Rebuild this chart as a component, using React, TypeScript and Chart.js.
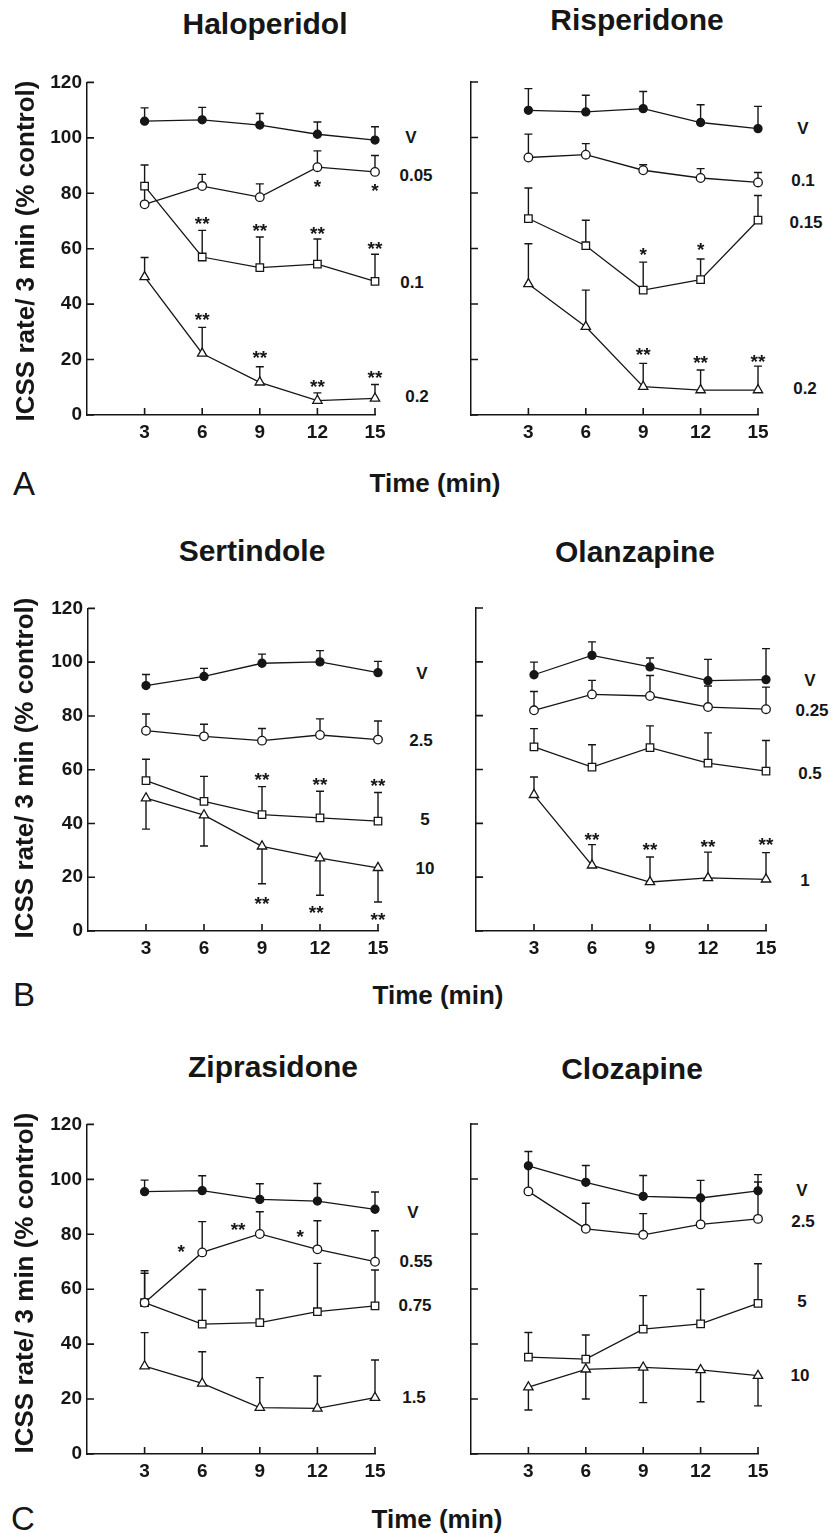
import React, { useEffect, useRef } from "react";
import { Chart, registerables } from "chart.js";

Chart.register(...registerables);

// ---------- shared axes ----------
const TIME = [3, 6, 9, 12, 15];
const Y_TICKS = [0, 20, 40, 60, 80, 100, 120];
const X_TITLE = "Time (min)";
const Y_TITLE = "ICSS rate/ 3 min (% control)";
const ROW_LETTERS = ["A", "B", "C"];
const DRUGS = ["Haloperidol", "Risperidone", "Sertindole", "Olanzapine", "Ziprasidone", "Clozapine"];

// ---------- Haloperidol ----------
const haloDoses = ["V", "0.05", "0.1", "0.2"];
const haloV = [106.0, 106.5, 104.6, 101.3, 99.2];
const haloVErr = [110.8, 111.0, 108.8, 105.7, 104.0];
const halo005 = [76.0, 82.6, 78.6, 89.4, 87.7];
const halo005Err = [82.6, 86.8, 83.4, 95.3, 93.6];
const halo01 = [82.6, 57.0, 53.2, 54.4, 48.2];
const halo01Err = [90.2, 66.6, 64.2, 63.5, 58.0];
const halo02 = [49.8, 22.2, 11.8, 5.2, 6.0];
const halo02Err = [56.8, 31.6, 17.4, 8.0, 11.0];
const haloStars: [number, number, string][] = [
  [12, 84.0, "*"], [15, 82.8, "*"],
  [6, 70.8, "**"], [9, 68.2, "**"], [12, 67.2, "**"], [15, 61.8, "**"],
  [6, 36.0, "**"], [9, 22.2, "**"], [12, 12.0, "**"], [15, 15.0, "**"],
];

// ---------- Risperidone ----------
const rispDoses = ["V", "0.1", "0.15", "0.2"];
const rispV = [109.8, 109.2, 110.4, 105.4, 103.2];
const rispVErr = [117.6, 115.2, 116.6, 111.8, 111.2];
const risp01 = [92.8, 93.8, 88.2, 85.4, 83.8];
const risp01Err = [101.2, 97.8, 90.2, 88.8, 87.4];
const risp015 = [70.8, 61.0, 45.0, 48.8, 70.2];
const risp015Err = [81.8, 70.2, 55.1, 56.2, 79.1];
const risp02 = [47.2, 31.8, 10.2, 9.0, 9.0];
const risp02Err = [61.7, 45.0, 18.6, 16.2, 17.6];
const rispStars: [number, number, string][] = [
  [9, 59.6, "*"], [12, 61.2, "*"],
  [9, 23.4, "**"], [12, 20.4, "**"], [15, 21.0, "**"],
];

// ---------- Sertindole ----------
const sertDoses = ["V", "2.5", "5", "10"];
const sertV = [91.3, 94.7, 99.6, 100.1, 96.1];
const sertVErr = [95.4, 97.7, 103.0, 104.3, 100.3];
const sert25 = [74.5, 72.4, 70.8, 72.9, 71.2];
const sert25Err = [80.7, 76.9, 75.3, 78.9, 78.1];
const sert5 = [55.9, 48.2, 43.3, 42.1, 40.9];
const sert5Err = [63.9, 57.5, 53.7, 52.0, 51.5];
const sert10 = [49.4, 43.1, 31.5, 27.1, 23.5];
const sert10Err = [37.9, 31.6, 17.6, 13.3, 10.8];
const sertStars: [number, number, string][] = [
  [9, 58.2, "**"], [12, 56.2, "**"], [15, 55.7, "**"],
  [9, 12.0, "**"], [11.8, 8.7, "**"], [15, 6.1, "**"],
];

// ---------- Olanzapine ----------
const olanDoses = ["V", "0.25", "0.5", "1"];
const olanV = [95.2, 102.4, 98.1, 93.0, 93.4];
const olanVErr = [99.9, 107.4, 101.4, 100.9, 104.9];
const olan025 = [82.0, 87.9, 87.3, 83.2, 82.4];
const olan025Err = [89.0, 93.1, 94.9, 91.0, 90.6];
const olan05 = [68.4, 60.9, 68.1, 62.4, 59.4];
const olan05Err = [75.2, 69.2, 76.2, 73.6, 70.8];
const olan1 = [50.6, 24.4, 18.2, 19.7, 19.2];
const olan1Err = [57.2, 32.1, 27.5, 29.3, 29.1];
const olanStars: [number, number, string][] = [
  [6, 35.5, "**"], [9, 31.8, "**"], [12, 33.1, "**"], [15, 33.7, "**"],
];

// ---------- Ziprasidone ----------
const zipDoses = ["V", "0.55", "0.75", "1.5"];
const zipV = [95.5, 95.9, 92.7, 92.1, 89.1];
const zipVErr = [99.7, 101.3, 98.4, 98.5, 95.4];
const zip055 = [55.1, 73.4, 80.1, 74.5, 70.0];
const zip055Err = [66.7, 84.6, 88.2, 84.9, 81.3];
const zip075 = [55.1, 47.3, 47.8, 51.8, 53.9];
const zip075Err = [65.8, 59.9, 59.7, 69.4, 67.0];
const zip15 = [32.0, 25.7, 16.9, 16.6, 20.5];
const zip15Err = [44.2, 37.2, 27.8, 28.4, 34.2];
const zipStars: [number, number, string][] = [
  [4.9, 75.5, "*"], [7.87, 83.4, "**"], [11.1, 80.9, "*"],
];

// ---------- Clozapine ----------
const clozDoses = ["V", "2.5", "5", "10"];
const clozV = [104.8, 98.8, 93.7, 93.1, 95.7];
const clozVErr = [110.0, 104.9, 101.3, 99.5, 101.6];
const cloz25 = [95.5, 81.9, 79.7, 83.5, 85.5];
const cloz25Err = [104.6, 91.2, 87.4, 93.1, 98.9];
const cloz5 = [35.2, 34.5, 45.4, 47.3, 54.8];
const cloz5Err = [44.2, 43.3, 57.6, 59.9, 69.2];
const cloz10 = [24.3, 30.8, 31.5, 30.6, 28.5];
const cloz10Err = [16.0, 20.0, 18.7, 19.0, 17.5];
const clozStars: [number, number, string][] = [];

// ---------- panel assembly ----------
type Panel = {
  title: string;
  doses: string[];
  means: number[][];
  errs: number[][];
  stars: [number, number, string][];
  showY: boolean;
};

const PANELS: Panel[] = [
  { title: DRUGS[0], doses: haloDoses, means: [haloV, halo005, halo01, halo02], errs: [haloVErr, halo005Err, halo01Err, halo02Err], stars: haloStars, showY: true },
  { title: DRUGS[1], doses: rispDoses, means: [rispV, risp01, risp015, risp02], errs: [rispVErr, risp01Err, risp015Err, risp02Err], stars: rispStars, showY: false },
  { title: DRUGS[2], doses: sertDoses, means: [sertV, sert25, sert5, sert10], errs: [sertVErr, sert25Err, sert5Err, sert10Err], stars: sertStars, showY: true },
  { title: DRUGS[3], doses: olanDoses, means: [olanV, olan025, olan05, olan1], errs: [olanVErr, olan025Err, olan05Err, olan1Err], stars: olanStars, showY: false },
  { title: DRUGS[4], doses: zipDoses, means: [zipV, zip055, zip075, zip15], errs: [zipVErr, zip055Err, zip075Err, zip15Err], stars: zipStars, showY: true },
  { title: DRUGS[5], doses: clozDoses, means: [clozV, cloz25, cloz5, cloz10], errs: [clozVErr, cloz25Err, cloz5Err, cloz10Err], stars: clozStars, showY: false },
];

// ---------- layout (page pixels) ----------
const FONT = '"Liberation Sans", Arial, Helvetica, sans-serif';
const INK = "#161616";
const PT = 16;
const PR = 22;
const XH = 40;

const RECTS = [
  { L: 87, R: 375, T: 82, B: 415 },
  { L: 471, R: 758, T: 82, B: 415 },
  { L: 88, R: 378, T: 608, B: 931 },
  { L: 476, R: 766, T: 608, B: 931 },
  { L: 87, R: 375, T: 1124, B: 1454 },
  { L: 471, R: 758, T: 1124, B: 1454 },
];
const TITLE_POS = [[265, 24], [637, 20], [252, 551], [635, 552], [273, 1067], [632, 1069]];
const DOSE_POS = [
  [[411, 137], [416, 175], [412, 282], [417, 396]],
  [[803, 128], [803, 180], [806, 222], [805, 388]],
  [[422, 673], [421, 740], [425, 819], [425, 868]],
  [[810, 680], [812, 710], [810, 773], [805, 880]],
  [[413, 1212], [416, 1261], [415, 1305], [414, 1397]],
  [[802, 1190], [803, 1221], [802, 1301], [800, 1375]],
];
const ROW_LETTER_POS = [[24, 483], [24, 994], [23, 1518]];
const X_TITLE_POS = [[435, 483], [438, 995], [437, 1519]];
const Y_TITLE_POS = [[25, 251], [24, 768], [24, 1283]];

const MARKERS = [
  { style: "circle", r: 4, fill: INK },
  { style: "circle", r: 4.3, fill: "#ffffff" },
  { style: "rect", r: 5.3, fill: "#ffffff" },
  { style: "triangle", r: 5.4, fill: "#ffffff" },
];

function PanelChart({ panel, rect }: { panel: Panel; rect: { L: number; R: number; T: number; B: number } }) {
  const ref = useRef<HTMLCanvasElement | null>(null);
  const yw = panel.showY ? 60 : 8;
  const width = yw + (rect.R - rect.L) + PR;
  const height = PT + (rect.B - rect.T) + XH;

  useEffect(() => {
    if (!ref.current) return;
    const decor = {
      id: "decor",
      beforeDatasetsDraw(chart: any) {
        const { ctx, scales } = chart;
        const x = scales.x, y = scales.y;
        ctx.save();
        ctx.strokeStyle = INK;
        ctx.lineWidth = 1.4;
        panel.means.forEach((mean, k) => {
          const err = panel.errs[k];
          mean.forEach((m, i) => {
            const px = x.getPixelForValue(TIME[i]);
            const p0 = y.getPixelForValue(m);
            const p1 = y.getPixelForValue(err[i]);
            ctx.beginPath();
            ctx.moveTo(px, p0);
            ctx.lineTo(px, p1);
            ctx.moveTo(px - 4, p1);
            ctx.lineTo(px + 4, p1);
            ctx.stroke();
          });
        });
        ctx.restore();
      },
      afterDraw(chart: any) {
        const { ctx, scales, chartArea } = chart;
        const x = scales.x, y = scales.y;
        ctx.save();
        ctx.strokeStyle = INK;
        ctx.lineWidth = 1.6;
        ctx.beginPath();
        TIME.forEach((t) => {
          const px = x.getPixelForValue(t);
          ctx.moveTo(px, chartArea.bottom);
          ctx.lineTo(px, chartArea.bottom - 7);
        });
        Y_TICKS.forEach((v) => {
          const py = y.getPixelForValue(v);
          ctx.moveTo(chartArea.left, py);
          ctx.lineTo(chartArea.left + 7, py);
        });
        ctx.stroke();
        const size = 19;
        ctx.fillStyle = INK;
        ctx.font = `bold ${size}px ${FONT}`;
        ctx.textAlign = "center";
        ctx.textBaseline = "alphabetic";
        panel.stars.forEach(([sx, sy, txt]) => {
          const px = x.getPixelForValue(sx);
          const py = y.getPixelForValue(sy);
          ctx.fillText(txt, px, py + 0.58 * size);
        });
        ctx.restore();
      },
    };

    const chart = new Chart(ref.current, {
      type: "line",
      data: {
        datasets: panel.means.map((mean, k) => ({
          label: panel.doses[k],
          data: mean.map((v, i) => ({ x: TIME[i], y: v })),
          borderColor: INK,
          borderWidth: 1.3,
          pointStyle: MARKERS[k].style as any,
          pointRadius: MARKERS[k].r,
          pointBackgroundColor: MARKERS[k].fill,
          pointBorderColor: INK,
          pointBorderWidth: 1.3,
          tension: 0,
          fill: false,
          clip: 10,
        })),
      },
      options: {
        animation: false,
        responsive: false,
        maintainAspectRatio: false,
        devicePixelRatio: 1,
        events: [],
        layout: { padding: { top: PT, right: PR, left: 0, bottom: 0 } },
        plugins: { legend: { display: false }, tooltip: { enabled: false }, title: { display: false } },
        scales: {
          x: {
            type: "linear",
            min: 0,
            max: 15,
            afterBuildTicks: (s: any) => { s.ticks = TIME.map((v) => ({ value: v })); },
            afterFit: (s: any) => { s.height = XH; },
            grid: { display: false, drawTicks: false },
            border: { display: true, color: INK, width: 1.5 },
            ticks: { color: INK, font: { family: FONT, size: 19, weight: "bold" }, padding: 6, maxRotation: 0, autoSkip: false },
          },
          y: {
            type: "linear",
            min: 0,
            max: 120,
            afterBuildTicks: (s: any) => { s.ticks = Y_TICKS.map((v) => ({ value: v })); },
            afterFit: (s: any) => { s.width = yw; },
            grid: { display: false, drawTicks: false },
            border: { display: true, color: INK, width: 1.5 },
            ticks: { display: panel.showY, color: INK, font: { family: FONT, size: 19, weight: "bold" }, padding: 5 },
          },
        },
      },
      plugins: [decor],
    } as any);
    return () => chart.destroy();
  }, [panel, yw]);

  return (
    <canvas
      ref={ref}
      width={width}
      height={height}
      style={{ position: "absolute", left: rect.L - yw, top: rect.T - PT, width, height }}
    />
  );
}

function Txt({ x, y, size, bold = true, rotate = false, children }: { x: number; y: number; size: number; bold?: boolean; rotate?: boolean; children: React.ReactNode }) {
  return (
    <div
      style={{
        position: "absolute",
        left: x,
        top: y,
        transform: `translate(-50%, -50%)${rotate ? " rotate(-90deg)" : ""}`,
        fontSize: size,
        fontWeight: bold ? 700 : 400,
        lineHeight: 1,
        whiteSpace: "nowrap",
        color: INK,
        fontFamily: FONT,
      }}
    >
      {children}
    </div>
  );
}

export default function App() {
  return (
    <div style={{ position: "absolute", left: 0, top: 0, width: 831, height: 1533, background: "#fff", overflow: "hidden" }}>
      {PANELS.map((p, i) => (
        <PanelChart key={"c" + i} panel={p} rect={RECTS[i]} />
      ))}
      {PANELS.map((p, i) => (
        <Txt key={"t" + i} x={TITLE_POS[i][0]} y={TITLE_POS[i][1]} size={30}>{p.title}</Txt>
      ))}
      {PANELS.map((p, i) =>
        p.doses.map((d, k) => (
          <Txt key={"d" + i + "-" + k} x={DOSE_POS[i][k][0]} y={DOSE_POS[i][k][1]} size={17}>{d}</Txt>
        ))
      )}
      {ROW_LETTERS.map((l, r) => (
        <React.Fragment key={"r" + r}>
          <Txt x={ROW_LETTER_POS[r][0]} y={ROW_LETTER_POS[r][1]} size={33} bold={false}>{l}</Txt>
          <Txt x={X_TITLE_POS[r][0]} y={X_TITLE_POS[r][1]} size={26}>{X_TITLE}</Txt>
          <Txt x={Y_TITLE_POS[r][0]} y={Y_TITLE_POS[r][1]} size={26} rotate>{Y_TITLE}</Txt>
        </React.Fragment>
      ))}
    </div>
  );
}
